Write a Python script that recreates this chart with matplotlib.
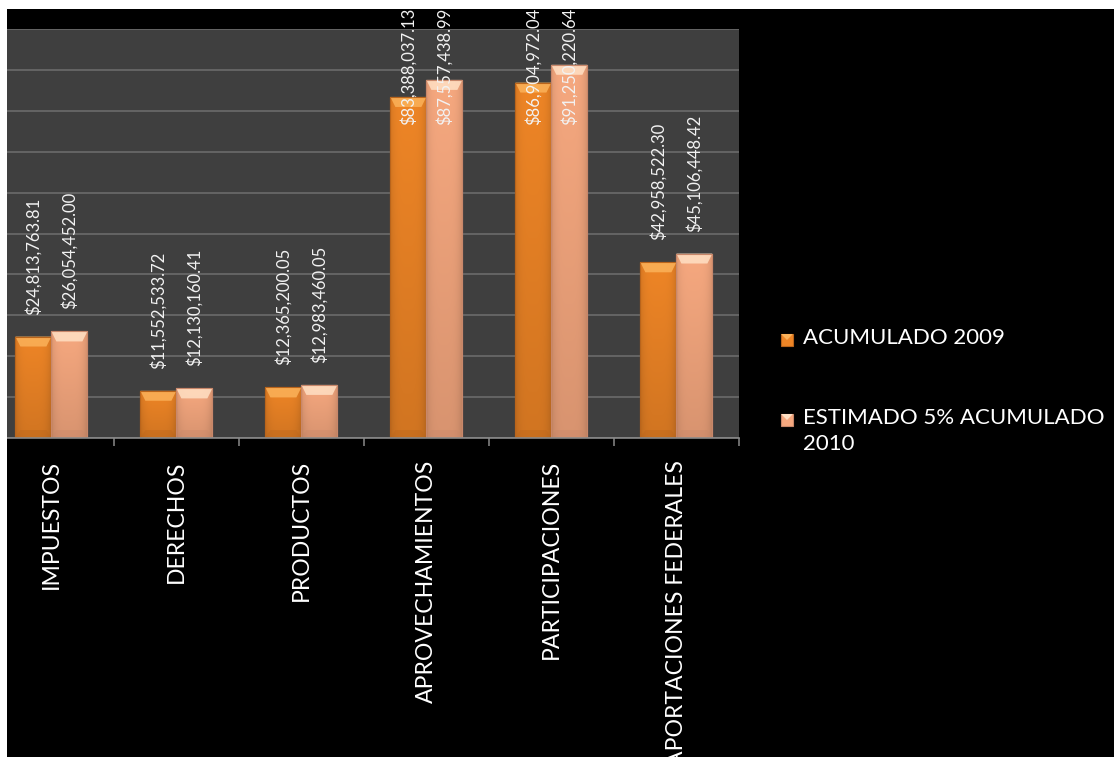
import numpy as np
import matplotlib
matplotlib.use("Agg")
import matplotlib.pyplot as plt
from matplotlib.patches import Rectangle, Polygon
from matplotlib.colors import to_rgb

categories = ["IMPUESTOS", "DERECHOS", "PRODUCTOS", "APROVECHAMIENTOS",
              "PARTICIPACIONES", "APORTACIONES FEDERALES"]
acumulado_2009 = [24813763.81, 11552533.72, 12365200.05, 83388037.13,
                  86904972.04, 42958522.30]
estimado_2010 = [26054452.00, 12130160.41, 12983460.05, 87557438.99,
                 91250220.64, 45106448.42]
series_names = ["ACUMULADO 2009", "ESTIMADO 5% ACUMULADO\n2010"]

W, H = 1114, 757
fig = plt.figure(figsize=(W / 100, H / 100), dpi=100, facecolor="black")

def fx(px):
    return px / W

def fy(py):
    return 1 - py / H

ax = fig.add_axes([fx(-11), fy(438), 750 / W, 409 / H])
ax.set_facecolor("#3f3f3f")
ax.set_xlim(-0.5, 5.5)
ax.set_ylim(0, 100e6)
ax.set_yticks(np.arange(0, 100e6 + 1, 10e6))
ax.yaxis.grid(True, color="#6e6e6e", linewidth=1.1)
ax.set_axisbelow(True)
ax.tick_params(axis="y", left=False, labelleft=False)
for s in ["top", "right", "left"]:
    ax.spines[s].set_visible(False)
ax.spines["bottom"].set_color("#8a8a8a")
ax.spines["bottom"].set_linewidth(1.2)

x = np.arange(len(categories))
ax.set_xticks(x)
ax.set_xticklabels(categories, rotation=90, fontsize=16.6, color="white",
                   family=["Lato", "DejaVu Sans"])
ax.tick_params(axis="x", which="major", length=0, pad=16)
ax.set_xticks(np.arange(0.5, len(categories), 1.0), minor=True)
ax.tick_params(axis="x", which="minor", length=6, width=1.1, color="#8a8a8a")

bw = 0.288
offs = [-0.145, 0.143]
base_cols = ["#EE8526", "#F6A87F"]
top_cols = ["#FBB25A", "#FFE0C4"]
edge_cols = ["#B9641B", "#C8876A"]
series = [acumulado_2009, estimado_2010]

# pixel to data conversions
px_x = 1.0 / 125.0
px_y = 100e6 / 409.0

for si, vals in enumerate(series):
    bars = ax.bar(x + offs[si], vals, width=bw, color=base_cols[si],
                  edgecolor=edge_cols[si], linewidth=0.8, zorder=2)
    for rect, v in zip(bars, vals):
        x0 = rect.get_x()
        x1 = x0 + rect.get_width()
        # gradient overlay
        ny, nx = 64, 32
        yy = np.linspace(1, 0, ny)[:, None]
        xx = np.linspace(-1, 1, nx)[None, :]
        shade = 1.0 - 0.12 * (1 - yy) - 0.10 * np.abs(xx) ** 4
        rgb = np.array(to_rgb(base_cols[si]))
        img = np.clip(rgb[None, None, :] * shade[:, :, None], 0, 1)
        im = ax.imshow(img, extent=[x0, x1, 0, v], aspect="auto",
                       zorder=2.1, interpolation="bilinear")
        im.set_clip_path(rect)
        # top bevel
        bh = 10 * px_y
        ins = 5 * px_x
        top = Polygon([[x0, v], [x1, v], [x1 - ins, v - bh], [x0 + ins, v - bh]],
                      closed=True, facecolor=top_cols[si], edgecolor="none",
                      zorder=2.3, alpha=0.85)
        ax.add_patch(top)
        # bottom bevel
        bot = Polygon([[x0, 0], [x1, 0], [x1 - ins, bh * 0.8], [x0 + ins, bh * 0.8]],
                      closed=True, facecolor=edge_cols[si], edgecolor="none",
                      zorder=2.3, alpha=0.35)
        ax.add_patch(bot)
        # outline
        ax.add_patch(Rectangle((x0, 0), x1 - x0, v, fill=False,
                               edgecolor=edge_cols[si], linewidth=0.8, zorder=2.4))
        # data label
        ly = min(v + 22 * px_y, 76.5e6)
        ax.text((x0 + x1) / 2, ly, f"${v:,.2f}", rotation=90, ha="center",
                va="bottom", fontsize=12, color="#f2f2f2",
                family=["Lato", "DejaVu Sans"], zorder=3, clip_on=False)

ax.set_xlim(-0.5, 5.5)
ax.set_ylim(0, 100e6)

# legend (manual)
leg_y = [340, 420]
for si in range(2):
    cy = leg_y[si]
    fig.patches.append(Rectangle((fx(781), fy(cy + 6)), 12 / W, 12 / H,
                                 transform=fig.transFigure,
                                 facecolor=base_cols[si], edgecolor=edge_cols[si],
                                 linewidth=0.8, zorder=5))
    fig.patches.append(Polygon([[fx(781), fy(cy - 6)], [fx(793), fy(cy - 6)],
                                [fx(787), fy(cy)]], closed=True,
                               transform=fig.transFigure,
                               facecolor=top_cols[si], edgecolor="none", zorder=6))
    fig.text(fx(803), fy(cy - 12), series_names[si], ha="left", va="top",
             fontsize=16, color="white", family=["Lato", "DejaVu Sans"],
             linespacing=1.4)

# white border strips (left and top)
fig.add_artist(Rectangle((0, 0), 7 / W, 1, transform=fig.transFigure,
                         facecolor="white", edgecolor="none", zorder=20))
fig.add_artist(Rectangle((0, 1 - 9 / H), 1, 9 / H, transform=fig.transFigure,
                         facecolor="white", edgecolor="none", zorder=20))

fig.savefig("out.png", dpi=100, facecolor="black")
